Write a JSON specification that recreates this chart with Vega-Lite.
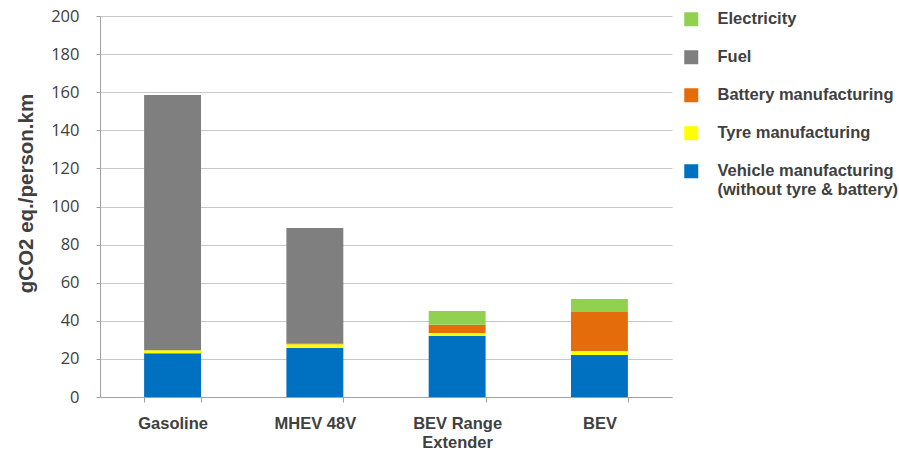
{
  "$schema": "https://vega.github.io/schema/vega-lite/v6.json",
  "autosize": "none",
  "padding": {"left": 100, "top": 16, "right": 227, "bottom": 59},
  "width": 572,
  "height": 381,
  "background": "white",
  "data": {"values": [
    {"car": "Gasoline", "source": "Vehicle manufacturing (without tyre & battery)", "o": 1, "v": 23},
    {"car": "Gasoline", "source": "Tyre manufacturing", "o": 2, "v": 1.5},
    {"car": "Gasoline", "source": "Battery manufacturing", "o": 3, "v": 0},
    {"car": "Gasoline", "source": "Fuel", "o": 4, "v": 134},
    {"car": "Gasoline", "source": "Electricity", "o": 5, "v": 0},
    {"car": "MHEV 48V", "source": "Vehicle manufacturing (without tyre & battery)", "o": 1, "v": 25.7},
    {"car": "MHEV 48V", "source": "Tyre manufacturing", "o": 2, "v": 2},
    {"car": "MHEV 48V", "source": "Battery manufacturing", "o": 3, "v": 0.5},
    {"car": "MHEV 48V", "source": "Fuel", "o": 4, "v": 60.5},
    {"car": "MHEV 48V", "source": "Electricity", "o": 5, "v": 0},
    {"car": "BEV Range Extender", "source": "Vehicle manufacturing (without tyre & battery)", "o": 1, "v": 32},
    {"car": "BEV Range Extender", "source": "Tyre manufacturing", "o": 2, "v": 1.6},
    {"car": "BEV Range Extender", "source": "Battery manufacturing", "o": 3, "v": 4.3},
    {"car": "BEV Range Extender", "source": "Fuel", "o": 4, "v": 0},
    {"car": "BEV Range Extender", "source": "Electricity", "o": 5, "v": 7.2},
    {"car": "BEV", "source": "Vehicle manufacturing (without tyre & battery)", "o": 1, "v": 22},
    {"car": "BEV", "source": "Tyre manufacturing", "o": 2, "v": 2.2},
    {"car": "BEV", "source": "Battery manufacturing", "o": 3, "v": 20.4},
    {"car": "BEV", "source": "Fuel", "o": 4, "v": 0},
    {"car": "BEV", "source": "Electricity", "o": 5, "v": 6.8}
  ]},
  "mark": {"type": "bar"},
  "encoding": {
    "x": {
      "field": "car", "type": "nominal",
      "sort": ["Gasoline", "MHEV 48V", "BEV Range Extender", "BEV"],
      "scale": {"paddingInner": 0.6, "paddingOuter": 0.31},
      "axis": {
        "title": null, "labelAngle": 0, "labelFont": "Liberation Sans", "labelFontWeight": "bold",
        "labelFontSize": 16.5, "labelColor": "#404040", "labelPadding": 13,
        "labelExpr": "datum.label == 'BEV Range Extender' ? ['BEV Range', 'Extender'] : datum.label",
        "labelLineHeight": 19,
        "tickBand": "extent", "tickColor": "#a0a0a0", "tickSize": 5,
        "domainColor": "#a0a0a0"
      }
    },
    "y": {
      "field": "v", "type": "quantitative", "stack": "zero",
      "scale": {"domain": [0, 200]},
      "axis": {
        "title": "gCO2 eq./person.km", "titleFont": "Liberation Sans", "titleFontSize": 20.5,
        "titleFontWeight": "bold", "titleColor": "#404040",
        "titleX": -74, "titleY": 177, "titleBaseline": "middle", "titleAlign": "center", "titleAngle": -90,
        "values": [0, 20, 40, 60, 80, 100, 120, 140, 160, 180, 200],
        "labelFont": "Open Sans", "labelFontSize": 16.5, "labelColor": "#404040", "labelPadding": 17,
        "tickColor": "#a0a0a0", "tickSize": 4, "domainColor": "#a0a0a0",
        "gridColor": "#c8c8c8"
      }
    },
    "color": {
      "field": "source", "type": "nominal",
      "scale": {
        "domain": ["Electricity", "Fuel", "Battery manufacturing", "Tyre manufacturing", "Vehicle manufacturing (without tyre & battery)"],
        "range": ["#92D050", "#7F7F7F", "#E46C0A", "#FFFF00", "#0070C0"]
      },
      "legend": {
        "title": null, "orient": "none", "legendX": 583, "legendY": -5,
        "symbolType": "square", "symbolSize": 196, "symbolStrokeWidth": 0, "symbolOpacity": 1,
        "labelFont": "Liberation Sans", "labelFontWeight": "bold", "labelFontSize": 16.5,
        "labelColor": "#404040", "labelOffset": 18, "rowPadding": 21, "labelLimit": 300,
        "labelLineHeight": 21,
        "labelExpr": "datum.label == 'Vehicle manufacturing (without tyre & battery)' ? ['Vehicle manufacturing', '(without tyre & battery)'] : datum.label"
      }
    },
    "order": {"field": "o", "type": "quantitative"}
  },
  "config": {"view": {"stroke": null}}
}
